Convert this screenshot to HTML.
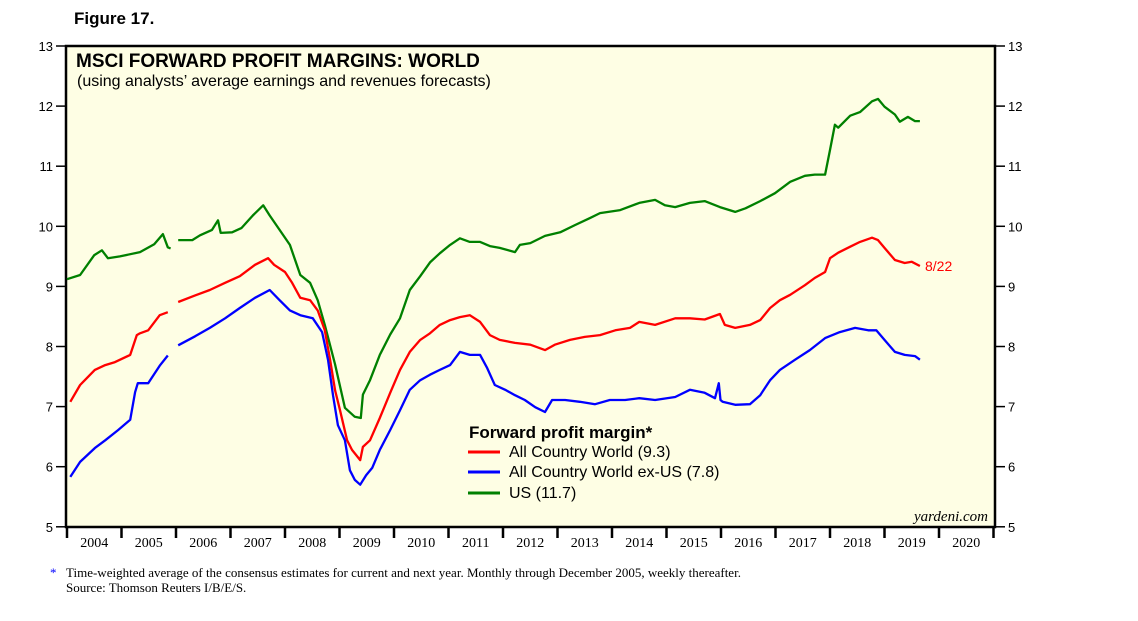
<!DOCTYPE html>
<html><head><meta charset="utf-8"><style>
body{margin:0;background:#fff;width:1138px;height:621px;overflow:hidden;font-family:"Liberation Sans",sans-serif}
svg{display:block}
</style></head><body>
<svg id="chart" width="1138" height="621" xmlns="http://www.w3.org/2000/svg">
<text x="74" y="24" font-size="17" font-weight="bold" font-family="Liberation Sans">Figure 17.</text>
<rect x="66" y="46" width="929" height="481" fill="#fefee4" stroke="#000" stroke-width="2.5"/>
<text x="76" y="67" font-size="19" font-weight="bold">MSCI FORWARD PROFIT MARGINS: WORLD</text>
<text x="77" y="86" font-size="16">(using analysts’ average earnings and revenues forecasts)</text>
<g id="axes"></g>
<g id="series"></g>
<text x="925" y="271" font-size="14" fill="#f00">8/22</text>
<g>
<text x="469" y="438" font-size="17" font-weight="bold">Forward profit margin*</text>
<line x1="468" y1="452" x2="500" y2="452" stroke="#f00" stroke-width="3"/>
<text x="509" y="457" font-size="16">All Country World (9.3)</text>
<line x1="468" y1="472" x2="500" y2="472" stroke="#00f" stroke-width="3"/>
<text x="509" y="477" font-size="16">All Country World ex-US (7.8)</text>
<line x1="468" y1="493" x2="500" y2="493" stroke="#008000" stroke-width="3"/>
<text x="509" y="498" font-size="16">US (11.7)</text>
</g>
<text x="988" y="521" font-size="15" font-style="italic" text-anchor="end" font-family="Liberation Serif">yardeni.com</text>
<text x="50" y="577" font-size="13" font-family="Liberation Serif"><tspan fill="#00f">*</tspan><tspan x="66">Time-weighted average of the consensus estimates for current and next year. Monthly through December 2005, weekly thereafter.</tspan></text>
<text x="66" y="592" font-size="13" font-family="Liberation Serif">Source: Thomson Reuters I/B/E/S.</text>
</svg>
<script>
const yTicks=[5,6,7,8,9,10,11,12,13];
const xYears=[2004,2005,2006,2007,2008,2009,2010,2011,2012,2013,2014,2015,2016,2017,2018,2019,2020];
const usDates=[2004.0,2004.24,2004.5,2004.64,2004.75,2004.97,2005.34,2005.6,2005.76,2005.85,2005.9,null,2006.04,2006.3,2006.44,2006.66,2006.77,2006.82,2007.03,2007.2,2007.41,2007.6,2007.72,2007.9,2008.09,2008.28,2008.46,2008.6,2008.73,2008.92,2009.1,2009.28,2009.39,2009.43,2009.56,2009.74,2009.93,2010.11,2010.29,2010.48,2010.66,2010.84,2011.03,2011.21,2011.39,2011.58,2011.76,2011.94,2012.22,2012.31,2012.5,2012.77,2013.05,2013.32,2013.6,2013.78,2014.15,2014.5,2014.79,2014.97,2015.16,2015.43,2015.7,2015.98,2016.26,2016.45,2016.72,2016.99,2017.27,2017.54,2017.72,2017.91,2018.0,2018.09,2018.15,2018.37,2018.55,2018.77,2018.88,2019.0,2019.19,2019.28,2019.43,2019.56,2019.65];
const usValues=[9.12,9.19,9.52,9.6,9.47,9.5,9.57,9.7,9.87,9.65,9.63,null,9.77,9.77,9.85,9.94,10.1,9.89,9.9,9.97,10.18,10.35,10.18,9.94,9.69,9.19,9.06,8.77,8.36,7.7,6.98,6.83,6.81,7.2,7.44,7.86,8.2,8.47,8.94,9.17,9.4,9.55,9.69,9.8,9.74,9.74,9.67,9.64,9.57,9.69,9.72,9.84,9.9,10.02,10.14,10.22,10.27,10.39,10.44,10.35,10.32,10.39,10.42,10.32,10.24,10.3,10.42,10.55,10.74,10.84,10.86,10.86,11.27,11.69,11.64,11.84,11.9,12.08,12.12,11.99,11.86,11.74,11.82,11.75,11.75];
const worldDates=[2004.06,2004.24,2004.51,2004.7,2004.88,2005.16,2005.28,2005.34,2005.49,2005.7,2005.85,null,2006.04,2006.35,2006.62,2006.9,2007.17,2007.45,2007.69,2007.8,2008.0,2008.13,2008.28,2008.46,2008.6,2008.73,2008.83,2008.92,2009.01,2009.14,2009.23,2009.38,2009.43,2009.56,2009.74,2009.93,2010.11,2010.29,2010.48,2010.66,2010.84,2011.03,2011.21,2011.39,2011.58,2011.76,2011.94,2012.22,2012.5,2012.77,2012.95,2013.23,2013.5,2013.78,2014.06,2014.33,2014.5,2014.79,2015.16,2015.43,2015.7,2015.98,2016.07,2016.26,2016.53,2016.72,2016.9,2017.08,2017.27,2017.54,2017.72,2017.91,2018.0,2018.15,2018.37,2018.55,2018.77,2018.88,2019.0,2019.19,2019.37,2019.5,2019.65];
const worldValues=[7.08,7.36,7.61,7.69,7.74,7.86,8.19,8.22,8.27,8.52,8.57,null,8.74,8.85,8.94,9.06,9.17,9.36,9.47,9.36,9.24,9.06,8.81,8.77,8.6,8.27,7.77,7.27,6.94,6.44,6.28,6.11,6.33,6.44,6.81,7.23,7.61,7.91,8.11,8.22,8.36,8.44,8.49,8.52,8.41,8.19,8.11,8.06,8.03,7.94,8.03,8.11,8.16,8.19,8.27,8.31,8.41,8.36,8.47,8.47,8.45,8.54,8.36,8.31,8.36,8.44,8.64,8.77,8.86,9.02,9.14,9.24,9.47,9.56,9.66,9.74,9.81,9.77,9.64,9.44,9.39,9.41,9.34];
const exusDates=[2004.06,2004.24,2004.51,2004.7,2004.94,2005.16,2005.25,2005.3,2005.49,2005.7,2005.85,null,2006.04,2006.35,2006.62,2006.9,2007.17,2007.45,2007.72,2007.9,2008.09,2008.28,2008.51,2008.68,2008.79,2008.88,2008.97,2009.1,2009.19,2009.28,2009.38,2009.49,2009.6,2009.74,2009.93,2010.11,2010.29,2010.48,2010.66,2010.84,2011.03,2011.21,2011.39,2011.58,2011.71,2011.85,2012.04,2012.22,2012.4,2012.59,2012.77,2012.9,2013.14,2013.41,2013.69,2013.96,2014.24,2014.5,2014.79,2015.16,2015.43,2015.7,2015.89,2015.96,2015.99,2016.03,2016.26,2016.53,2016.72,2016.9,2017.08,2017.36,2017.63,2017.91,2018.18,2018.46,2018.7,2018.85,2019.0,2019.19,2019.37,2019.56,2019.65];
const exusValues=[5.83,6.08,6.31,6.44,6.61,6.78,7.24,7.39,7.39,7.68,7.85,null,8.02,8.17,8.31,8.47,8.64,8.81,8.94,8.77,8.6,8.52,8.47,8.24,7.77,7.19,6.69,6.44,5.94,5.78,5.7,5.86,5.98,6.28,6.61,6.94,7.28,7.44,7.53,7.61,7.69,7.91,7.86,7.86,7.64,7.36,7.28,7.19,7.11,6.99,6.91,7.11,7.11,7.08,7.04,7.11,7.11,7.14,7.11,7.16,7.28,7.23,7.14,7.39,7.11,7.08,7.03,7.04,7.19,7.44,7.61,7.78,7.94,8.14,8.24,8.31,8.27,8.27,8.11,7.91,7.86,7.84,7.78];
const X0=67,XW=54.5,Y0=46,YS=60.1;
const xs=t=>X0+(t-2004)*XW, ys=v=>Y0+(13-v)*YS;
const NS="http://www.w3.org/2000/svg";
const axes=document.getElementById('axes'), ser=document.getElementById('series');
function mk(tag,attrs,parent){const e=document.createElementNS(NS,tag);for(const k in attrs)e.setAttribute(k,attrs[k]);parent.appendChild(e);return e;}
yTicks.forEach(v=>{const y=ys(v);
 let t=mk('line',{x1:56,x2:66,y1:y,y2:y,stroke:'#000','stroke-width':1.5},axes);
 
 
 t=mk('line',{x1:995,x2:1005,y1:y,y2:y,stroke:'#000','stroke-width':1.5},axes);
 
 
 let l=mk('text',{x:53,y:y+5,'font-size':13,'text-anchor':'end'},axes);l.textContent=v;
 
 
 l=mk('text',{x:1008,y:y+5,'font-size':13},axes);l.textContent=v;
 
 
});
xYears.forEach(yr=>{const x=xs(yr);
 if(yr>2004){const t=mk('line',{x1:x,x2:x,y1:527,y2:538,stroke:'#000','stroke-width':2.5},axes);
 
 }
 const l=mk('text',{x:x+XW/2,y:547,'font-size':14,'text-anchor':'middle','font-family':'Liberation Serif'},axes);l.textContent=yr;
 
 
});
const t0=mk('line',{x1:67,x2:67,y1:527,y2:538,stroke:'#000','stroke-width':2.5},axes);


const t1=mk('line',{x1:xs(2021),x2:xs(2021),y1:527,y2:538,stroke:'#000','stroke-width':2.5},axes);


function path(d,v){let s='',pen=false;for(let i=0;i<d.length;i++){if(d[i]===null){pen=false;continue;}s+=(pen?'L':'M')+xs(d[i]).toFixed(1)+','+ys(v[i]).toFixed(1);pen=true;}return s;}
[[usDates,usValues,'#008000','us-line'],[worldDates,worldValues,'#f00','world-line'],[exusDates,exusValues,'#00f','exus-line']].forEach(s=>{
 const p=mk('path',{d:path(s[0],s[1]),fill:'none',stroke:s[2],'stroke-width':2.3,'stroke-linejoin':'round'},ser);
 
 
});
</script>
</body></html>
